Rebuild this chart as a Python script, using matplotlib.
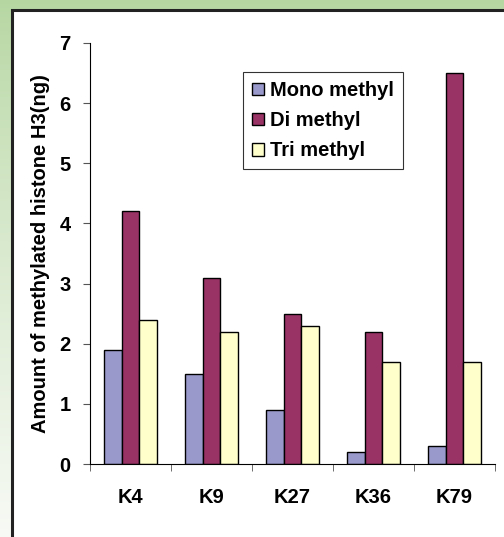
import numpy as np
import matplotlib
matplotlib.use("Agg")
import matplotlib.pyplot as plt
from matplotlib.patches import Rectangle

plt.rcParams['font.family'] = ['Liberation Sans', 'DejaVu Sans']
plt.rcParams['font.weight'] = 'bold'

categories = ["K4", "K9", "K27", "K36", "K79"]
mono = [1.9, 1.5, 0.9, 0.2, 0.3]
di = [4.2, 3.1, 2.5, 2.2, 6.5]
tri = [2.4, 2.2, 2.3, 1.7, 1.7]
series_names = ["Mono methyl", "Di methyl", "Tri methyl"]
colors = ["#9999CC", "#993366", "#FFFFCC"]
y_label = "Amount of methylated histone H3(ng)"

W, H = 504, 537
fig = plt.figure(figsize=(W / 100, H / 100), dpi=100)

# green gradient backdrop
bg = fig.add_axes([0, 0, 1, 1], zorder=-10)
bg.set_axis_off()
t = np.linspace(0, 1, 256)[:, None]
top = np.array([0.71, 0.84, 0.63])
bottom = np.array([0.97, 0.98, 0.96])
grad = top * (1 - t[..., None] ** 0.8) + bottom * (t[..., None] ** 0.8)
grad = np.repeat(grad, 4, axis=1)
bg.imshow(grad, aspect='auto', extent=[0, 1, 0, 1], origin='upper')
bg.set_xlim(0, 1)
bg.set_ylim(0, 1)

# white inner panel with dark frame
panel = Rectangle((12 / W, -0.1), 1.2, 1.1 - 9.5 / H, transform=fig.transFigure,
                  facecolor='white', edgecolor='#222222', linewidth=2.2, zorder=-5)
fig.patches.append(panel)

ax = fig.add_axes([90 / W, (H - 464) / H, (495 - 90) / W, (464 - 43) / H])
ax.set_facecolor('none')

x = np.arange(len(categories))
bw = 0.222
for i, (vals, name, c) in enumerate(zip([mono, di, tri], series_names, colors)):
    ax.bar(x + (i - 1) * bw, vals, width=bw, color=c, edgecolor='black',
           linewidth=1.0, label=name)

ax.set_xlim(-0.5, len(categories) - 0.5)
ax.set_ylim(0, 7)
ax.set_yticks(range(0, 8))
ax.set_xticks(x)
ax.set_xticklabels(categories, fontsize=14.5, fontweight='bold')
ax.set_xticks(np.arange(-0.5, len(categories)), minor=True)
ax.tick_params(axis='x', which='major', length=0, pad=17)
ax.tick_params(axis='x', which='minor', length=5, direction='out', color='#555555')
ax.tick_params(axis='y', length=5, direction='out', color='#555555', pad=9,
               labelsize=14.5)
for lbl in ax.get_yticklabels():
    lbl.set_fontweight('bold')

ax.spines['top'].set_visible(False)
ax.spines['right'].set_visible(False)
ax.spines['left'].set_color('black')
ax.spines['bottom'].set_color('black')

ax.set_ylabel(y_label, fontsize=14.5, fontweight='bold', labelpad=7)

leg = ax.legend(loc='upper left', bbox_to_anchor=((243 - 90) / 405, (464 - 72) / 421),
                frameon=True, fancybox=False, edgecolor='black',
                prop={'weight': 'bold', 'size': 14.5},
                handlelength=0.6, handleheight=0.6, handletextpad=0.3,
                labelspacing=0.55, borderpad=0.45, borderaxespad=0)
leg.get_frame().set_linewidth(0.8)

fig.savefig("out.png", dpi=100)
